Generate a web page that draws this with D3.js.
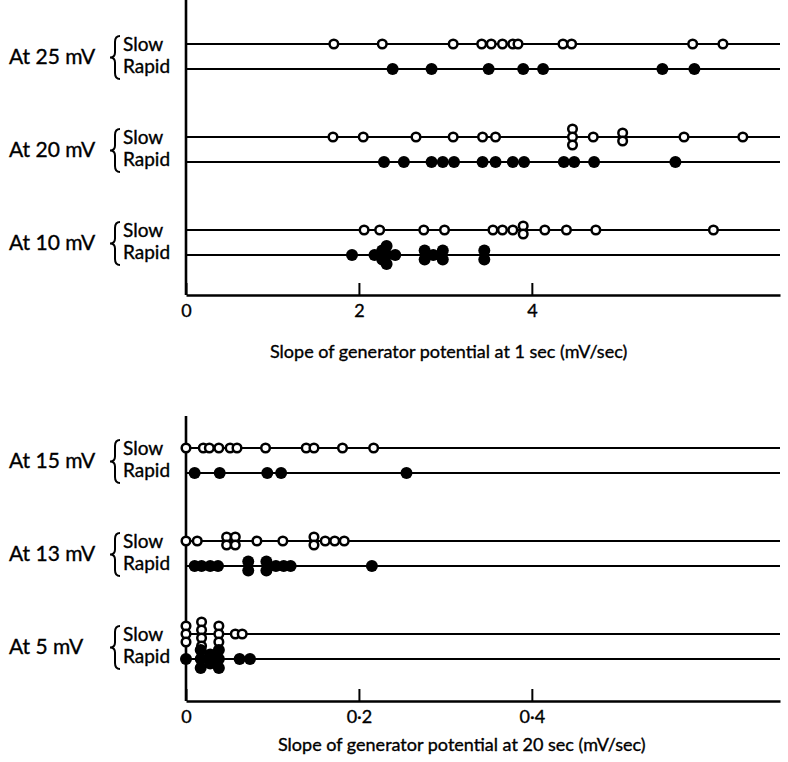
<!DOCTYPE html>
<html>
<head>
<meta charset="utf-8">
<script src="https://cdn.jsdelivr.net/npm/d3@7"></script>
<style>
    body { margin: 0; background: #fff; }
    svg { font-family: Lato, "Open Sans", sans-serif; }
    svg text { stroke: #000; stroke-width: 0.35px; }
</style>
</head>
<body>
<svg width="788" height="762"></svg>
<script>
// top panel: slope at 1 sec (mV/sec)
const topGroups = ["At 25 mV", "At 20 mV", "At 10 mV"];
const slow25 = [1.71, 2.27, 3.09, 3.42, 3.53, 3.66, 3.78, 3.84, 4.36, 4.46, 5.86, 6.21];
const rapid25 = [2.39, 2.84, 3.50, 3.90, 4.13, 5.51, 5.88];
const slow20 = [1.70, 2.05, 2.66, 3.09, 3.43, 3.58, 4.47, 4.47, 4.47, 4.71, 5.05, 5.05, 5.76, 6.44];
const rapid20 = [2.29, 2.52, 2.84, 2.97, 3.10, 3.43, 3.58, 3.78, 3.91, 4.37, 4.49, 4.72, 5.66];
const slow10 = [2.06, 2.24, 2.75, 2.99, 3.55, 3.66, 3.78, 3.90, 3.90, 4.15, 4.40, 4.74, 6.10];
const rapid10 = [1.92, 2.18, 2.27, 2.27, 2.32, 2.32, 2.32, 2.42, 2.76, 2.76, 2.86, 2.97, 2.97, 3.45, 3.45];
const topTicks = [0, 2, 4];

// bottom panel: slope at 20 sec (mV/sec)
const bottomGroups = ["At 15 mV", "At 13 mV", "At 5 mV"];
const slow15 = [0, 0.020, 0.027, 0.038, 0.051, 0.059, 0.092, 0.139, 0.148, 0.181, 0.217];
const rapid15 = [0.010, 0.039, 0.094, 0.110, 0.255];
const slow13 = [0, 0.013, 0.047, 0.047, 0.057, 0.057, 0.082, 0.112, 0.148, 0.148, 0.161, 0.172, 0.183];
const rapid13 = [0.010, 0.018, 0.028, 0.037, 0.072, 0.072, 0.093, 0.093, 0.104, 0.113, 0.121, 0.215];
const slow5 = [0, 0, 0, 0.018, 0.018, 0.018, 0.018, 0.038, 0.038, 0.038, 0.057, 0.065];
const rapid5 = [0, 0.017, 0.017, 0.017, 0.028, 0.028, 0.038, 0.038, 0.038, 0.062, 0.074];
const bottomTicks = [0, 0.2, 0.4];

const svg = d3.select("svg");

function bracePath(x, y0, y1) {
    const mid = (y0 + y1) / 2;
    const xc = x + 5, xr = x + 10;
    return `M${xr},${y0} Q${xc},${y0} ${xc},${y0 + 6} L${xc},${mid - 5} Q${xc},${mid} ${x},${mid}` +
        ` Q${xc},${mid} ${xc},${mid + 5} L${xc},${y1 - 6} Q${xc},${y1} ${xr},${y1}`;
}

// stack equal values vertically around the row line
function stackPoints(values, step) {
    const counts = d3.rollup(values, v => v.length, d => d);
    const seen = new Map();
    return values.map(v => {
        const n = counts.get(v);
        const i = seen.get(v) || 0;
        seen.set(v, i + 1);
        return { value: v, dy: (i - (n - 1) / 2) * step };
    });
}

function drawRow(x, y, values, filled) {
    svg.append("line")
        .attr("x1", x.range()[0])
        .attr("x2", x.range()[1])
        .attr("y1", y)
        .attr("y2", y)
        .attr("stroke", "#000")
        .attr("stroke-width", 2.2);

    svg.append("g")
        .selectAll("circle")
        .data(stackPoints(values, filled ? 9 : 8))
        .join("circle")
        .attr("cx", d => x(d.value))
        .attr("cy", d => y + d.dy)
        .attr("r", filled ? 6 : 4.3)
        .attr("fill", filled ? "#000" : "#fff")
        .attr("stroke", "#000")
        .attr("stroke-width", filled ? 0 : 2.5);
}

function drawPanel(cfg) {
    const x = d3.scaleLinear().domain(cfg.domain).range([186, 780]);
    const y = d3.scalePoint().domain(cfg.groups).range(cfg.rows);

    // vertical axis
    svg.append("line")
        .attr("x1", 186).attr("x2", 186)
        .attr("y1", cfg.top).attr("y2", cfg.axisY)
        .attr("stroke", "#000")
        .attr("stroke-width", 2.6);

    cfg.groups.forEach((g, i) => {
        const ys = y(g);
        const yr = ys + 25;
        drawRow(x, ys, cfg.series[i][0], false);
        drawRow(x, yr, cfg.series[i][1], true);

        svg.append("text")
            .attr("x", 9)
            .attr("y", (ys + yr) / 2 + 7)
            .attr("font-size", "21px")
            .text(g);

        svg.append("path")
            .attr("d", bracePath(110, ys - 8, yr + 10))
            .attr("fill", "none")
            .attr("stroke", "#000")
            .attr("stroke-width", 2);

        svg.append("text")
            .attr("x", 123)
            .attr("y", ys + 7)
            .attr("font-size", "19px")
            .text("Slow");

        svg.append("text")
            .attr("x", 123)
            .attr("y", yr + 4)
            .attr("font-size", "19px")
            .text("Rapid");
    });

    const axis = d3.axisBottom(x)
        .tickValues(cfg.ticks)
        .tickSizeInner(-12)
        .tickSizeOuter(0)
        .tickPadding(9)
        .tickFormat(cfg.format);

    const ax = svg.append("g")
        .attr("transform", `translate(0,${cfg.axisY})`)
        .call(axis);
    ax.select(".domain").attr("stroke-width", 2.6);
    ax.selectAll(".tick line").attr("stroke-width", 2);
    ax.selectAll(".tick text")
        .attr("font-size", "18px")
        .attr("font-family", "Lato, sans-serif")
        .attr("fill", "#000");

    svg.append("text")
        .attr("x", cfg.titleX)
        .attr("y", cfg.axisY + cfg.titleGap)
        .attr("font-size", "18px")
        .text(cfg.title);
}

drawPanel({
    groups: topGroups,
    series: [[slow25, rapid25], [slow20, rapid20], [slow10, rapid10]],
    domain: [0, 6.87],
    rows: [44, 230],
    top: 0,
    axisY: 295,
    ticks: topTicks,
    format: d3.format("d"),
    title: "Slope of generator potential at 1 sec (mV/sec)",
    titleX: 270,
    titleGap: 63
});

drawPanel({
    groups: bottomGroups,
    series: [[slow15, rapid15], [slow13, rapid13], [slow5, rapid5]],
    domain: [0, 0.687],
    rows: [448, 634],
    top: 416,
    axisY: 701,
    ticks: bottomTicks,
    format: d => d === 0 ? "0" : d3.format(".1f")(d).replace(".", "\u00b7"),
    title: "Slope of generator potential at 20 sec (mV/sec)",
    titleX: 278,
    titleGap: 50
});
</script>
</body>
</html>
